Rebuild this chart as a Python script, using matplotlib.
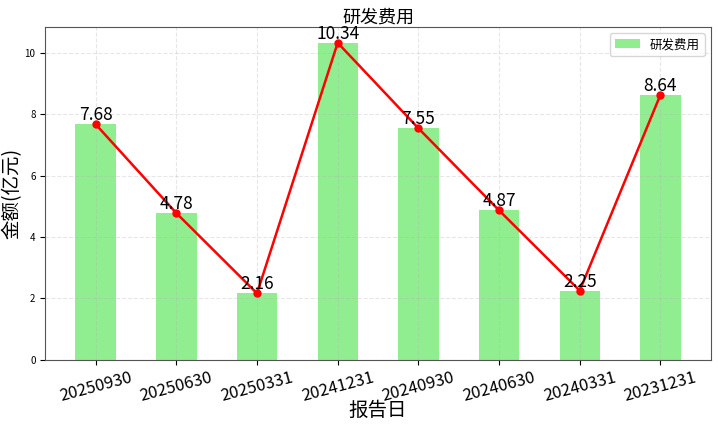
import matplotlib
matplotlib.use("Agg")
import matplotlib.pyplot as plt
import numpy as np

plt.rcParams['font.family'] = ['Noto Sans CJK SC', 'DejaVu Sans']
plt.rcParams['axes.unicode_minus'] = False

dates = ["20250930", "20250630", "20250331", "20241231",
         "20240930", "20240630", "20240331", "20231231"]
rd_cost = [7.68, 4.78, 2.16, 10.34, 7.55, 4.87, 2.25, 8.64]

fig, ax = plt.subplots(figsize=(7.18, 4.28), dpi=100)
x = np.arange(len(dates))
ax.bar(x, rd_cost, width=0.5, color="lightgreen", label="研发费用")
ax.plot(x, rd_cost, color="red", marker="o", markersize=5, linewidth=1.8)

for xi, v in zip(x, rd_cost):
    ax.text(xi, v, f"{v:.2f}", ha="center", va="bottom", fontsize=12.5)

ax.set_xticks(x)
ax.set_xticklabels(dates, rotation=15, fontsize=12)
ax.tick_params(axis="y", labelsize=7)
ax.set_title("研发费用", fontsize=13, pad=3)
xl = ax.set_xlabel("报告日", fontsize=14)
xl.set_va("center")
ax.xaxis.set_label_coords(0.5, -0.153)
yl = ax.set_ylabel("金额(亿元)", fontsize=14)
yl.set_va("center")
ax.yaxis.set_label_coords(-0.05, 0.5)
ax.grid(True, linestyle="--", alpha=0.3)
ax.legend(loc="upper right", fontsize=9)
for s in ax.spines.values():
    s.set_color("#555555")

plt.subplots_adjust(left=0.063, right=0.99, top=0.937, bottom=0.16)
plt.savefig("out.png", dpi=100)
